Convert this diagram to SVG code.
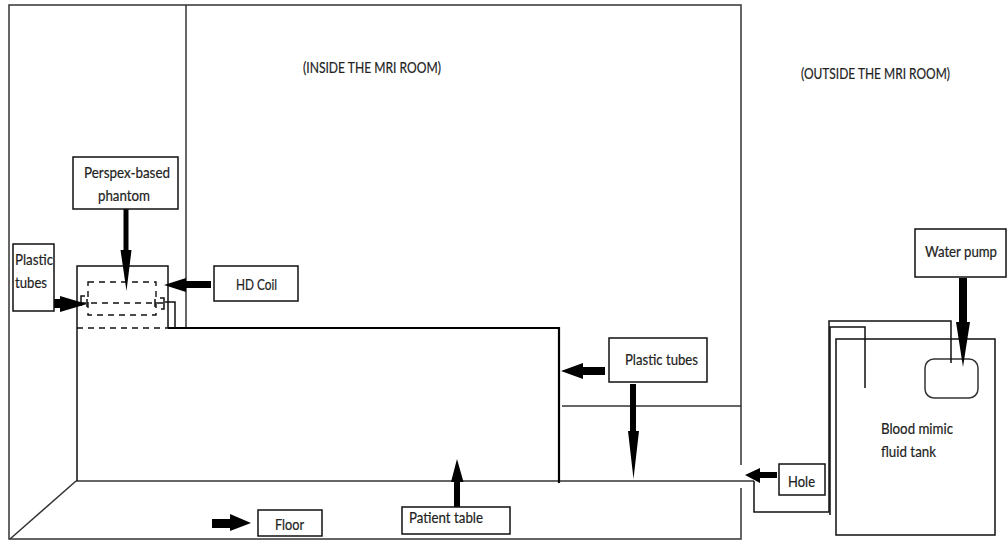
<svg xmlns="http://www.w3.org/2000/svg" width="1007" height="540" viewBox="0 0 1007 540">
<style>
.box{fill:#fff;stroke:#111;stroke-width:1.5}
.ln{fill:none;stroke:#111;stroke-width:1.5}
.gr{fill:none;stroke:#333;stroke-width:1.5}
.thk{fill:none;stroke:#000;stroke-width:2.2}
.ds{fill:none;stroke:#111;stroke-width:1.4;stroke-dasharray:6 5}
.ar{fill:#000;stroke:none}
text{font-family:"Lato","Open Sans","Liberation Sans",sans-serif;font-size:16px;fill:#222;stroke:#222;stroke-width:.2}
#water-pump text{font-size:14.500px}
</style>
<rect width="1007" height="540" fill="#fff"/>
<g id="room">
<path class="gr" d="M741 465V5H9V539H741V488"/>
<path class="gr" d="M186 5V328"/>
<path class="gr" d="M76 481L10 539"/>
<path class="gr" d="M562 406H741"/>
<path class="gr" d="M76 481H754"/>
</g>
<g id="patient-table-shape">
<path class="ln" d="M77 481V266H168V328"/>
<path class="ds" stroke-dasharray="4 3" d="M77 328H168"/>
<path class="thk" d="M168 328H559V483"/>
</g>
<g id="phantom-shape">
<path class="ds" d="M88 282H156V315H88Z"/>
<path class="ds" d="M80 303H165"/>
<path class="ln" d="M85 296H81V306M87 299V307M155 299V307M160 298H164V309H161"/>
</g>
<g id="tank">
<rect class="box" x="836" y="339" width="159" height="196"/>
<rect class="gr" x="925" y="359" width="53" height="39" rx="9"/>
<text x="881" y="434" textLength="72" lengthAdjust="spacingAndGlyphs">Blood mimic</text>
<text x="881" y="457" textLength="55" lengthAdjust="spacingAndGlyphs">fluid tank</text>
</g>
<g id="connectors">
<path class="ln" d="M165 302H175V328"/>
<path class="ln" d="M754 481V512H829V321H951V363"/>
<path class="ln" d="M830 515V327H865V388"/>
<path class="ar" d="M123.500 209H128.500V250H131.500L126.500 291L120.500 250H123.500Z"/>
<path class="ar" d="M54 299H60V296L87 304L60 312V308H54Z"/>
<path class="ar" d="M211 281H186V278L164 285L186 292V288H211Z"/>
<path class="ar" d="M605 367H583V363L561 371L583 379V375H605Z"/>
<path class="ar" d="M630 384H636V431H639L633.500 479L628 431H630Z"/>
<path class="ar" d="M959 278H967V322H970L963 367L956 322H959Z"/>
<path class="ar" d="M777 472H760V468L745 475L760 483V478H777Z"/>
<path class="ar" d="M212 519H230V514L251 523L230 531V528H212Z"/>
<path class="ar" d="M454 507H460V482H463.500L457 459L451 482H454Z"/>
</g>
<g id="label-inside"><text x="303" y="73" textLength="138" lengthAdjust="spacingAndGlyphs">(INSIDE THE MRI ROOM)</text></g>
<g id="label-outside"><text x="801" y="79" textLength="149" lengthAdjust="spacingAndGlyphs">(OUTSIDE THE MRI ROOM)</text></g>
<g id="perspex-phantom">
<rect class="box" x="73" y="157" width="105" height="52"/>
<text x="84" y="178" textLength="86" lengthAdjust="spacingAndGlyphs">Perspex-based</text>
<text x="98" y="201" textLength="52" lengthAdjust="spacingAndGlyphs">phantom</text>
</g>
<g id="plastic-tubes-left">
<rect class="box" x="13" y="244" width="41" height="67"/>
<text x="15" y="265" textLength="38" lengthAdjust="spacingAndGlyphs">Plastic</text>
<text x="15" y="288" textLength="32" lengthAdjust="spacingAndGlyphs">tubes</text>
</g>
<g id="hd-coil">
<rect class="box" x="214" y="266" width="84" height="35"/>
<text x="236" y="290" textLength="41" lengthAdjust="spacingAndGlyphs">HD Coil</text>
</g>
<g id="plastic-tubes-right">
<rect class="box" x="609" y="338" width="98" height="44"/>
<text x="625" y="365" textLength="73" lengthAdjust="spacingAndGlyphs">Plastic tubes</text>
</g>
<g id="water-pump">
<rect class="box" x="915" y="229" width="91" height="48"/>
<text x="925" y="257" textLength="72" lengthAdjust="spacingAndGlyphs">Water pump</text>
</g>
<g id="hole">
<rect class="box" x="779" y="464" width="46" height="31"/>
<text x="788" y="487" textLength="27" lengthAdjust="spacingAndGlyphs">Hole</text>
</g>
<g id="floor">
<rect class="box" x="258" y="510" width="64" height="26"/>
<text x="275" y="530" textLength="29" lengthAdjust="spacingAndGlyphs">Floor</text>
</g>
<g id="patient-table">
<rect class="box" x="402" y="507" width="108" height="27"/>
<text x="409" y="523" textLength="74" lengthAdjust="spacingAndGlyphs">Patient table</text>
</g>
</svg>
